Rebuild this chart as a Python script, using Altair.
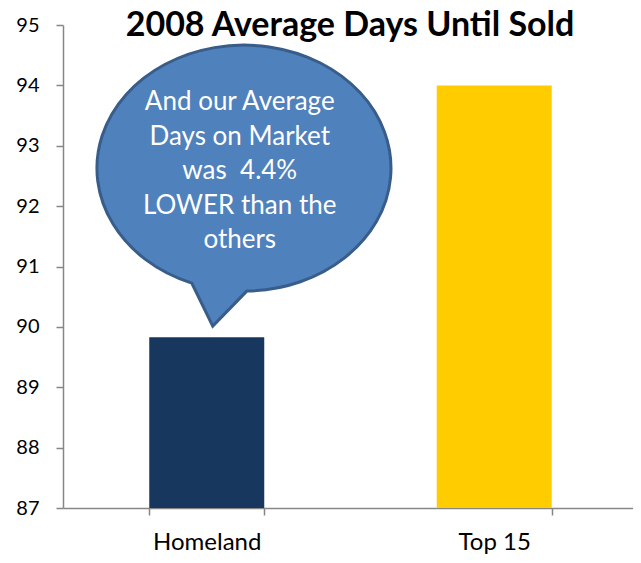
import altair as alt
import pandas as pd

categories = ["Homeland", "Top 15"]
days = [89.83, 94.0]
bar_colors = ["#17375E", "#FFCC00"]
y_ticks = [87, 88, 89, 90, 91, 92, 93, 94, 95]

bubble_lines = ["And our Average", "Days on Market", "was \u00a04.4%", "LOWER than the", "others"]
bubble_anchor_cat = ["Homeland"]
bubble_anchor_val = [92.63]

bars_df = pd.DataFrame({"cat": categories, "days": days, "color": bar_colors})
note_df = pd.DataFrame({"cat": bubble_anchor_cat, "days": bubble_anchor_val})

FONT = "Lato"
AX = "#868686"

x_enc = alt.X(
    "cat:N",
    sort=categories,
    title=None,
    scale=alt.Scale(paddingInner=0.6, paddingOuter=0.3, range=[0, 575]),
    axis=alt.Axis(
        labelAngle=0, labelFont=FONT, labelFontSize=24, labelColor="#000000",
        labelPadding=15, tickBand="extent", tickColor=AX, tickSize=7,
        domainColor=AX, domainWidth=1.5, tickWidth=1.5, grid=False,
    ),
)
y_scale = alt.Scale(domain=[87, 95], nice=False, zero=False)
y_axis = alt.Axis(
    values=y_ticks, format="d", labelFont=FONT, labelFontSize=20, labelColor="#000000",
    labelPadding=17, tickColor=AX, tickSize=7, domainColor=AX, domainWidth=1.5,
    tickWidth=1.5, grid=False,
)

bars = alt.Chart(bars_df).mark_bar().encode(
    x=x_enc,
    y=alt.Y("days:Q", scale=y_scale, axis=y_axis, title=None),
    y2=alt.datum(87),
    color=alt.Color("color:N", scale=None),
)

bubble_path = "M -48 115 A 147 123 0 1 1 7 123 L -27 158 Z"
bubble = alt.Chart(note_df).mark_point(
    shape=bubble_path, size=4, filled=True, fill="#4F81BD", stroke="#385D8A",
    strokeWidth=3, opacity=1, fillOpacity=1, strokeOpacity=1, xOffset=33,
).encode(
    x=alt.X("cat:N", sort=categories),
    y=alt.Y("days:Q"),
)

note_text = alt.Chart(note_df).mark_text(
    text=bubble_lines, font=FONT, fontSize=26, color="#FFFFFF", align="center",
    baseline="middle", lineHeight=34.5, xOffset=33, yOffset=-66,
).encode(
    x=alt.X("cat:N", sort=categories),
    y=alt.Y("days:Q"),
)

chart = alt.layer(bars, bubble, note_text).properties(
    width=570,
    height=483,
    title=alt.TitleParams(
        "2008 Average Days Until Sold", font=FONT, fontSize=34, fontWeight="bold",
        color="#000000", anchor="middle", baseline="alphabetic", offset=-10, dy=45,
        dx=2,
    ),
    autosize=alt.AutoSizeParams(type="none"),
    padding={"left": 55, "top": 17, "right": 0, "bottom": 47},
).configure_view(stroke=None)

chart.save("out.html", embed_options={"renderer": "svg", "actions": False})
